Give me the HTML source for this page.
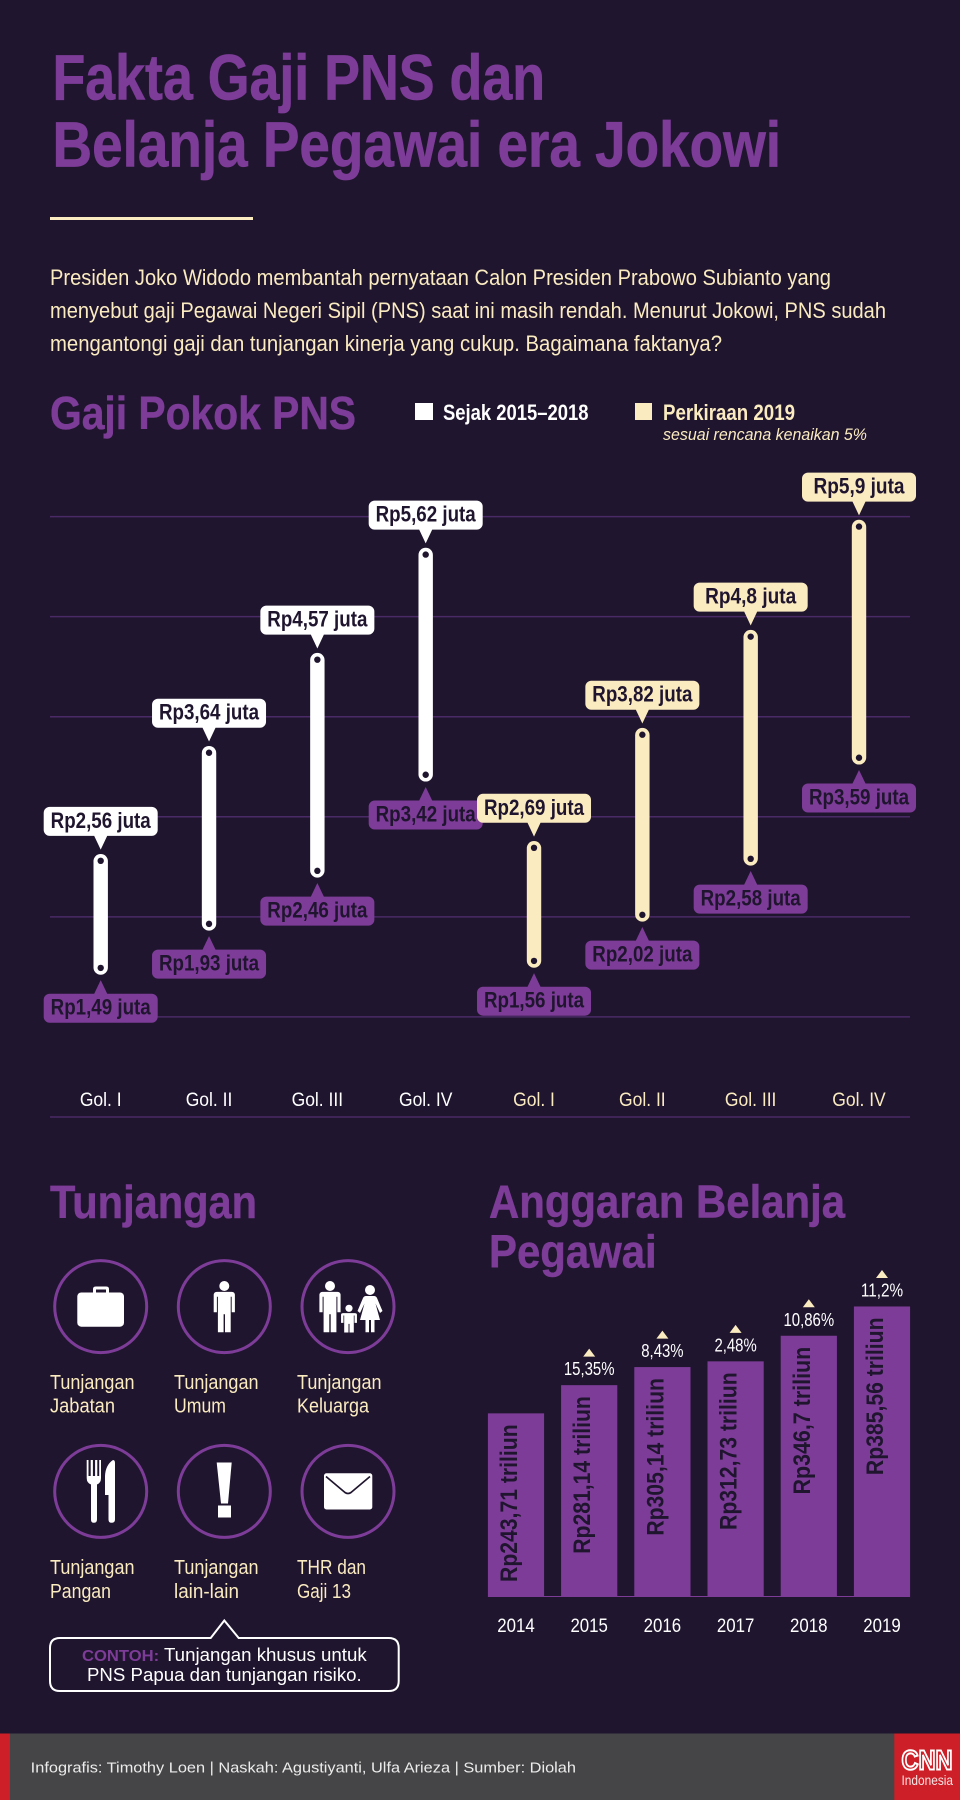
<!DOCTYPE html>
<html lang="id">
<head>
<meta charset="utf-8">
<title>Fakta Gaji PNS dan Belanja Pegawai era Jokowi</title>
<style>
html,body{margin:0;padding:0;background:#1f152e;}
svg{display:block;font-family:"Liberation Sans",sans-serif;}
</style>
</head>
<body>
<svg id="page" xmlns="http://www.w3.org/2000/svg" width="960" height="1800" viewBox="0 0 960 1800">
  <defs>
    <path id="person-body" d="M-7.5 10.6H7.5Q10.6 10.6 10.6 14V31H7.4V15.5H6.4V51H0.7V33H-0.7V51H-6.4V15.5H-7.4V31H-10.6V14Q-10.6 10.6 -7.5 10.6Z" fill="#fff"/>
  </defs>
  <rect x="0" y="0" width="960" height="1800" fill="#1f152e"/>

  <g font-weight="700" font-size="64" fill="#7d3c98" stroke="#7d3c98" stroke-width="0.7">
    <text x="52.5" y="99.5" textLength="492.5" lengthAdjust="spacingAndGlyphs">Fakta Gaji PNS dan</text>
    <text x="52.5" y="166.7" textLength="728.5" lengthAdjust="spacingAndGlyphs">Belanja Pegawai era Jokowi</text>
  </g>
  <rect x="50" y="217" width="203" height="3" fill="#fbebc0"/>

  <g font-size="22" fill="#fbebc0">
    <text x="50" y="285" textLength="781" lengthAdjust="spacingAndGlyphs">Presiden Joko Widodo membantah pernyataan Calon Presiden Prabowo Subianto yang</text>
    <text x="50" y="318" textLength="836" lengthAdjust="spacingAndGlyphs">menyebut gaji Pegawai Negeri Sipil (PNS) saat ini masih rendah. Menurut Jokowi, PNS sudah</text>
    <text x="50" y="351" textLength="672" lengthAdjust="spacingAndGlyphs">mengantongi gaji dan tunjangan kinerja yang cukup. Bagaimana faktanya?</text>
  </g>

  <text x="50" y="429" font-size="46" font-weight="700" fill="#7d3c98" stroke="#7d3c98" stroke-width="0.5" textLength="306" lengthAdjust="spacingAndGlyphs">Gaji Pokok PNS</text>

  <g>
    <rect x="415" y="403" width="18" height="17" fill="#ffffff"/>
    <text x="443" y="420" font-size="22" font-weight="700" fill="#ffffff" textLength="145.5" lengthAdjust="spacingAndGlyphs">Sejak 2015–2018</text>
    <rect x="635" y="403" width="17" height="17" fill="#fbebc0"/>
    <text x="663" y="420" font-size="22" font-weight="700" fill="#fbebc0" textLength="132" lengthAdjust="spacingAndGlyphs">Perkiraan 2019</text>
    <text x="663" y="440" font-size="17" font-style="italic" fill="#fbebc0" textLength="204" lengthAdjust="spacingAndGlyphs">sesuai rencana kenaikan 5%</text>
  </g>

  <g id="salary-chart"></g>

  <text x="50" y="1218" font-size="46" font-weight="700" fill="#7d3c98" stroke="#7d3c98" stroke-width="0.5" textLength="207" lengthAdjust="spacingAndGlyphs">Tunjangan</text>

  <g fill="none" stroke="#7d3c98" stroke-width="3">
    <circle cx="100.7" cy="1306.6" r="46"/>
    <circle cx="224.3" cy="1306.6" r="46"/>
    <circle cx="348" cy="1306.6" r="46"/>
    <circle cx="100.7" cy="1491.4" r="46"/>
    <circle cx="224.3" cy="1491.4" r="46"/>
    <circle cx="348" cy="1491.4" r="46"/>
  </g>

  <g>
    <path d="M93 1293V1289Q93 1286.5 96 1286.5H106Q109 1286.5 109 1289V1293H106V1289.5H96V1293Z" fill="#fff"/>
    <rect x="77.3" y="1292.5" width="46.7" height="34.2" rx="4" fill="#fff"/>
  </g>
  <g>
    <circle cx="224.3" cy="1286" r="5" fill="#fff"/>
    <use href="#person-body" x="224.3" y="1281.3"/>
  </g>
  <g>
    <circle cx="330" cy="1286" r="5" fill="#fff"/>
    <use href="#person-body" x="330" y="1281.3"/>
    <circle cx="349" cy="1308.3" r="3.6" fill="#fff"/>
    <use href="#person-body" transform="translate(349 1308) scale(.75 .48)"/>
    <circle cx="370" cy="1290" r="5" fill="#fff"/>
    <path d="M366 1296H374Q376 1296 377 1298L382.5 1311L380 1313L375.5 1303.5L380 1320H374.5V1332.3H371V1320H369V1332.3H365.5V1320H360L364.5 1303.5L360 1313L357.5 1311L363 1298Q364 1296 366 1296Z" fill="#fff"/>
  </g>
  <g fill="#fff">
    <path d="M86.7 1460H88.5V1476H90.7V1460H92.9V1476H95.1V1460H97.3V1476H99.2V1460H101V1478Q101 1483 97 1484.5V1519.5Q97 1522.8 93.8 1522.8Q91 1522.8 91 1519.5V1484.5Q86.7 1483 86.7 1478Z"/>
    <path d="M113 1460Q115 1460 115 1463V1519.5Q115 1522.8 111.5 1522.8Q108.5 1522.8 108.5 1519.5V1495H105V1476Q105.5 1465 113 1460Z"/>
  </g>
  <g fill="#fff">
    <path d="M216.7 1462.5H231.7L228 1503.5H221Z"/>
    <rect x="218" y="1505.5" width="13" height="12"/>
  </g>
  <g>
    <rect x="324" y="1473.3" width="48.3" height="36.2" rx="2.5" fill="#fff"/>
    <path d="M326 1476.5L345 1492.5Q348 1494.6 351 1492.5L370 1476.5" fill="none" stroke="#1f152e" stroke-width="1.7"/>
  </g>

  <g font-size="20" fill="#fbebc0">
    <text><tspan x="50" y="1389" textLength="84.5" lengthAdjust="spacingAndGlyphs">Tunjangan</tspan><tspan x="50" y="1412.5" textLength="65" lengthAdjust="spacingAndGlyphs">Jabatan</tspan></text>
    <text><tspan x="174" y="1389" textLength="84.5" lengthAdjust="spacingAndGlyphs">Tunjangan</tspan><tspan x="174" y="1412.5" textLength="52" lengthAdjust="spacingAndGlyphs">Umum</tspan></text>
    <text><tspan x="297" y="1389" textLength="84.5" lengthAdjust="spacingAndGlyphs">Tunjangan</tspan><tspan x="297" y="1412.5" textLength="72" lengthAdjust="spacingAndGlyphs">Keluarga</tspan></text>
    <text><tspan x="50" y="1574" textLength="84.5" lengthAdjust="spacingAndGlyphs">Tunjangan</tspan><tspan x="50" y="1598" textLength="61" lengthAdjust="spacingAndGlyphs">Pangan</tspan></text>
    <text><tspan x="174" y="1574" textLength="84.5" lengthAdjust="spacingAndGlyphs">Tunjangan</tspan><tspan x="174" y="1598" textLength="65" lengthAdjust="spacingAndGlyphs">lain-lain</tspan></text>
    <text><tspan x="297" y="1574" textLength="69" lengthAdjust="spacingAndGlyphs">THR dan</tspan><tspan x="297" y="1598" textLength="54" lengthAdjust="spacingAndGlyphs">Gaji 13</tspan></text>
  </g>

  <path d="M60 1638H210.7L224.3 1620.5L238.7 1638H388.7Q398.7 1638 398.7 1648V1681Q398.7 1691 388.7 1691H60Q50 1691 50 1681V1648Q50 1638 60 1638Z" fill="none" stroke="#ffffff" stroke-width="2"/>
  <text font-size="18" fill="#ffffff" x="82" y="1661" textLength="284.7" lengthAdjust="spacingAndGlyphs"><tspan font-weight="700" font-size="16" fill="#7d3c98">CONTOH:</tspan> Tunjangan khusus untuk</text>
  <text font-size="18" fill="#ffffff" x="87" y="1681" textLength="274.7" lengthAdjust="spacingAndGlyphs">PNS Papua dan tunjangan risiko.</text>

  <g font-size="46" font-weight="700" fill="#7d3c98" stroke="#7d3c98" stroke-width="0.5">
    <text x="489" y="1217.5" textLength="356" lengthAdjust="spacingAndGlyphs">Anggaran Belanja</text>
    <text x="489" y="1267.5" textLength="167.7" lengthAdjust="spacingAndGlyphs">Pegawai</text>
  </g>

  <g id="budget-chart"></g>

  <g>
    <rect x="0" y="1733.5" width="960" height="66.5" fill="#454547"/>
    <rect x="0" y="1733.5" width="10" height="66.5" fill="#cc1f27"/>
    <text x="30.7" y="1772.7" font-size="15" fill="#ececec" textLength="545.3" lengthAdjust="spacingAndGlyphs">Infografis: Timothy Loen | Naskah: Agustiyanti, Ulfa Arieza | Sumber: Diolah</text>
    <rect x="894.3" y="1733.5" width="65.7" height="66.5" fill="#cc1f27"/>
    <text x="901.5" y="1769.5" font-size="28" font-weight="700" fill="#cc1f27" stroke="#ffffff" stroke-width="2" textLength="51" lengthAdjust="spacingAndGlyphs">CNN</text>
    <text x="901.5" y="1785" font-size="14" fill="#f6e3e3" textLength="51.5" lengthAdjust="spacingAndGlyphs">Indonesia</text>
  </g>
</svg>

<script>
// ---- salary chart data (juta rupiah) ----
var categories = ['Gol. I', 'Gol. II', 'Gol. III', 'Gol. IV', 'Gol. I', 'Gol. II', 'Gol. III', 'Gol. IV'];
var seriesKeys = ['current', 'current', 'current', 'current', 'forecast', 'forecast', 'forecast', 'forecast'];
var salaryMin = [1.49, 1.93, 2.46, 3.42, 1.56, 2.02, 2.58, 3.59];
var salaryMax = [2.56, 3.64, 4.57, 5.62, 2.69, 3.82, 4.8, 5.9];
var gridTicks = [0, 1, 2, 3, 4, 5, 6];

// ---- budget chart data (triliun rupiah) ----
var budgetYears = ['2014', '2015', '2016', '2017', '2018', '2019'];
var budgetValues = [243.71, 281.14, 305.14, 312.73, 346.7, 385.56];
var budgetGrowth = [null, 15.35, 8.43, 2.48, 10.86, 11.2];

var NS = 'http://www.w3.org/2000/svg';
var CREAM = '#fbebc0', PURPLE = '#7d3c98', DARK = '#1f152e', GRID = '#4a2a66';

function make(parent, tag, attrs, content) {
  var el = document.createElementNS(NS, tag);
  for (var k in attrs) { el.setAttribute(k, attrs[k]); }
  if (content !== undefined) { el.textContent = content; }
  parent.appendChild(el);
  return el;
}
function idNum(v) { return String(v).replace('.', ','); }

// axis functions
function salaryX(i) { return 100.7 + 108.33 * i; }
function salaryY(v) { return 1117 - 100.07 * v; }
function budgetX(i) { return 516 + 73.2 * i; }
function budgetH(v) { return 0.7535 * v; }
var BUDGET_BASE = 1597;

var chart = document.getElementById('salary-chart');

gridTicks.forEach(function (t) {
  var line = make(chart, 'line', { x1: 50, x2: 910, y1: salaryY(t), y2: salaryY(t), stroke: GRID, 'stroke-width': 1.5 });
  
  
});

categories.forEach(function (cat, i) {
  var x = salaryX(i);
  var col = seriesKeys[i] === 'current' ? '#ffffff' : CREAM;
  var yHi = salaryY(salaryMax[i]);
  var yLo = salaryY(salaryMin[i]);

  var pill = make(chart, 'rect', { x: x - 7.2, y: yHi - 6.8, width: 14.4, height: yLo - yHi + 13.6, rx: 7.2, fill: col });
  
  

  var dotHi = make(chart, 'circle', { cx: x, cy: yHi, r: 3.2, fill: DARK });
  
  

  var dotLo = make(chart, 'circle', { cx: x, cy: yLo, r: 3.2, fill: DARK });
  
  

  var hiBox = make(chart, 'path', {
    d: 'M' + (x - 51) + ' ' + (yHi - 54) + 'h102a6 6 0 0 1 6 6v17a6 6 0 0 1 -6 6h-44.5l-6.5 13.8l-6.5 -13.8h-44.5a6 6 0 0 1 -6 -6v-17a6 6 0 0 1 6 -6z',
    fill: col
  });
  
  

  var hiStr = 'Rp' + idNum(salaryMax[i]) + ' juta';
  var hiText = make(chart, 'text', { x: x, y: yHi - 33, 'text-anchor': 'middle', 'font-size': 22, 'font-weight': 700, fill: DARK, textLength: hiStr.length * 9.1, lengthAdjust: 'spacingAndGlyphs' }, hiStr);
  
  

  var loBox = make(chart, 'path', {
    d: 'M' + x + ' ' + (yLo + 12.2) + 'l6.5 13.6h44.5a6 6 0 0 1 6 6v17a6 6 0 0 1 -6 6h-102a6 6 0 0 1 -6 -6v-17a6 6 0 0 1 6 -6h44.5z',
    fill: PURPLE
  });
  
  

  var loStr = 'Rp' + idNum(salaryMin[i]) + ' juta';
  var loText = make(chart, 'text', { x: x, y: yLo + 46.6, 'text-anchor': 'middle', 'font-size': 22, 'font-weight': 700, fill: DARK, textLength: loStr.length * 9.1, lengthAdjust: 'spacingAndGlyphs' }, loStr);
  
  

  var cLab = make(chart, 'text', { x: x, y: 1106, 'text-anchor': 'middle', 'font-size': 19, fill: col }, cat);
  
  
  cLab.setAttribute('lengthAdjust', 'spacingAndGlyphs');
  cLab.setAttribute('textLength', cLab.getComputedTextLength() * 0.92);
});

var bchart = document.getElementById('budget-chart');

var baseLine = make(bchart, 'line', { x1: 488, x2: 910, y1: BUDGET_BASE - 0.5, y2: BUDGET_BASE - 0.5, stroke: PURPLE, 'stroke-width': 1 });



budgetYears.forEach(function (yr, i) {
  var cx = budgetX(i);
  var h = budgetH(budgetValues[i]);
  var top = BUDGET_BASE - h;

  var bar = make(bchart, 'rect', { x: cx - 28.1, y: top, width: 56.2, height: h, fill: PURPLE });
  
  

  var vStr = 'Rp' + idNum(budgetValues[i]) + ' triliun';
  var vText = make(bchart, 'text', { transform: 'translate(' + (cx + 1) + ' ' + (top + 11) + ') rotate(-90)', 'text-anchor': 'end', 'font-size': 24, 'font-weight': 700, fill: DARK, textLength: vStr.length * 9.85, lengthAdjust: 'spacingAndGlyphs' }, vStr);
  
  

  var yLab = make(bchart, 'text', { x: cx, y: 1632, 'text-anchor': 'middle', 'font-size': 19, fill: '#ffffff', textLength: 37.5, lengthAdjust: 'spacingAndGlyphs' }, yr);
  
  

  if (budgetGrowth[i] !== null) {
    var gStr = idNum(budgetGrowth[i]) + '%';
    var gText = make(bchart, 'text', { x: cx, y: top - 10, 'text-anchor': 'middle', 'font-size': 18, fill: '#ffffff', textLength: gStr.length * 8.45, lengthAdjust: 'spacingAndGlyphs' }, gStr);
    
    

    var tri = make(bchart, 'path', { d: 'M' + (cx - 6) + ' ' + (top - 28.5) + 'h12l-6 -8z', fill: CREAM });
    
    
  }
});
</script>
</body>
</html>
